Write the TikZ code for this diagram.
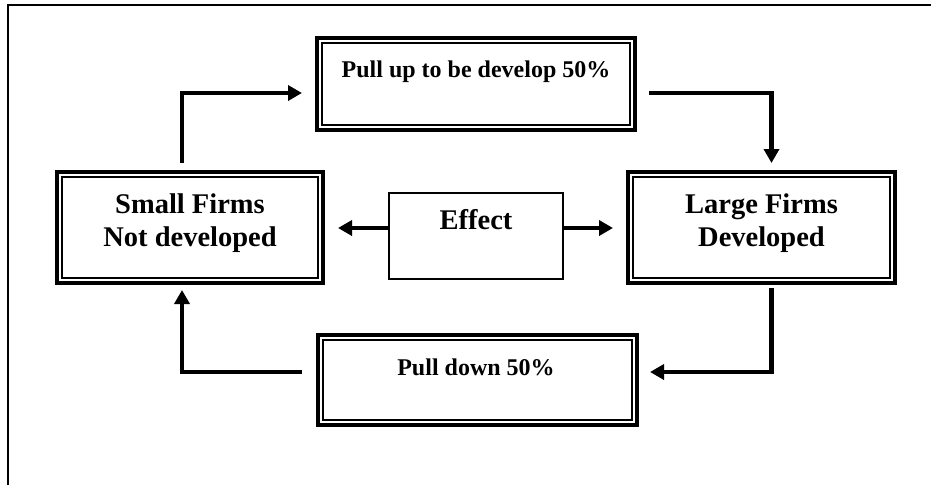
\documentclass[tikz,border=0pt]{standalone}
\usepackage{fontspec}
\setmainfont{Liberation Serif}
\usetikzlibrary{arrows.meta}
\begin{document}
\begin{tikzpicture}[x=1pt,y=-1pt,
  dbox/.style={draw, line width=3.2pt, inner sep=0pt, outer sep=0pt},
  sbox/.style={draw, line width=1.2pt, inner sep=0pt, outer sep=0pt},
  bigtxt/.style={font=\fontsize{28.5}{33}\selectfont\bfseries, align=center, inner sep=0pt},
  smalltxt/.style={font=\fontsize{24}{28}\selectfont\bfseries, align=center, inner sep=0pt},
  arr/.style={line width=4.4pt, -{Triangle[length=14pt,width=15pt]}}]
\useasboundingbox (0,0) rectangle (931,485);
\draw[line width=2pt] (8,485) -- (8,5) -- (931,5);
% boxes
\node[dbox, minimum width=318pt, minimum height=92pt] (pu) at (476,84) {};
\node[dbox, minimum width=266pt, minimum height=111pt] (sm) at (190,227.5) {};
\node[dbox, minimum width=267pt, minimum height=111pt] (lg) at (761.5,227.5) {};
\node[dbox, minimum width=319pt, minimum height=90pt] (pd) at (477.5,380) {};
\node[sbox, minimum width=174pt, minimum height=86pt] (ef) at (476,236) {};
\foreach \n in {pu,sm,lg,pd}{
  \draw[line width=1.8pt] ([shift={(5pt,-5pt)}]\n.north west) rectangle ([shift={(-5pt,5pt)}]\n.south east);
}
% texts
\node[smalltxt] (put) at (476,72) {Pull up to be develop 50\%};
\node[bigtxt] (smt) at (190,223) {Small Firms\\Not developed};
\node[bigtxt] (lgt) at (761.5,223) {Large Firms\\Developed};
\node[bigtxt] (eft) at (476,220) {Effect};
\node[smalltxt] (pdt) at (476,367) {Pull down 50\%};
% connectors
\draw[arr] ([xshift=-8pt,yshift=9pt]sm.north) |- ([xshift=-15pt,yshift=-9pt]pu.west);
\draw[arr] ([xshift=14pt,yshift=-9pt]pu.east) -| ([xshift=10pt,yshift=9pt]lg.north);
\draw[arr] ([xshift=10pt,yshift=-5pt]lg.south) |- ([xshift=13pt,yshift=8pt]pd.east);
\draw[arr] ([xshift=-16pt,yshift=8pt]pd.west) -| ([xshift=-8pt,yshift=-7pt]sm.south);
\draw[arr] ([yshift=8pt]ef.west) -- ([xshift=15pt,yshift=-0.5pt]sm.east);
\draw[arr] ([yshift=8pt]ef.east) -- ([xshift=-15pt,yshift=-0.5pt]lg.west);
\end{tikzpicture}
\end{document}
